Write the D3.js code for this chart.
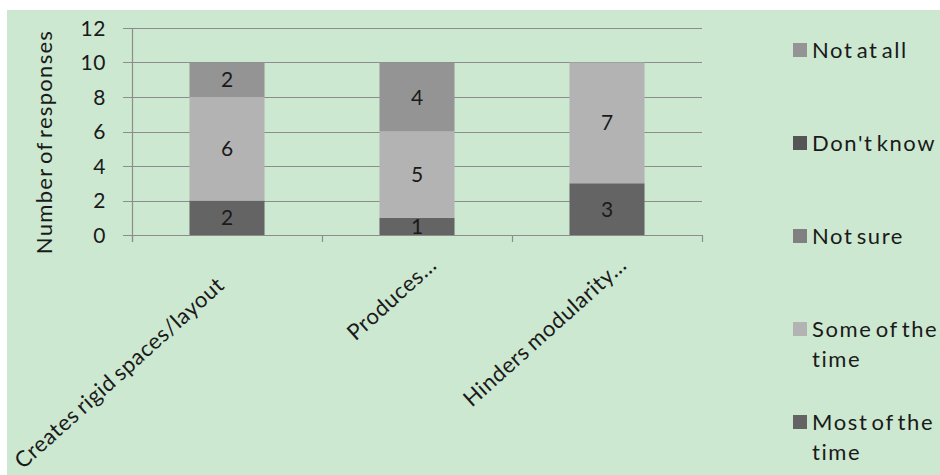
<!DOCTYPE html>
<html>
<head>
<meta charset="utf-8">
<script src="https://cdn.jsdelivr.net/npm/d3@7"></script>
<style>
  html, body { margin: 0; padding: 0; background: #ffffff; }
  svg { display: block; }
  text { font-family: Lato, "Noto Sans", sans-serif; fill: #1a1a1a; }
</style>
</head>
<body>
<svg id="chart" width="940" height="475"></svg>
<script>
// ---- data ----
const categories = ["Creates rigid spaces/layout", "Produces...", "Hinders modularity..."];
const seriesNames = ["Most of the time", "Some of the time", "Not sure", "Don't know", "Not at all"];
const mostOfTheTime = [2, 1, 3];
const someOfTheTime = [6, 5, 7];
const notSure = [0, 0, 0];
const dontKnow = [0, 0, 0];
const notAtAll = [2, 4, 0];
const yTicks = [0, 2, 4, 6, 8, 10, 12];
const yTitle = "Number of responses";
const legendLabels = [["Not at all"], ["Don't know"], ["Not sure"], ["Some of the", "time"], ["Most of the", "time"]];

// ---- styles ----
const colors = {
  "Most of the time": "#646464",
  "Some of the time": "#b3b3b3",
  "Not sure": "#808080",
  "Don't know": "#555555",
  "Not at all": "#949494"
};
const legendOrder = ["Not at all", "Don't know", "Not sure", "Some of the time", "Most of the time"];
// label slide back along its baseline (Excel pushes the long first label outward)
const xLabelSlide = [30, 0, 0];

const svg = d3.select("#chart");
svg.append("rect").attr("x", 7).attr("y", 10).attr("width", 933).attr("height", 465).attr("fill", "#cde8d0");

const plot = { left: 132, right: 702, top: 28, bottom: 235 };

const x = d3.scaleBand().domain(categories).range([plot.left, plot.right]).paddingInner(0.605).paddingOuter(0.3025);
const y = d3.scaleLinear().domain([0, 12]).range([plot.bottom, plot.top]);

// table for stack
const valuesBySeries = [mostOfTheTime, someOfTheTime, notSure, dontKnow, notAtAll];
const table = categories.map((c, i) => {
  const row = { category: c };
  seriesNames.forEach((s, k) => row[s] = valuesBySeries[k][i]);
  return row;
});
const stacked = d3.stack().keys(seriesNames)(table);

// gridlines
svg.append("g").selectAll("line").data(yTicks).join("line")
  .attr("x1", plot.left - 9).attr("x2", plot.right)
  .attr("y1", d => Math.round(y(d)) + 0.5).attr("y2", d => Math.round(y(d)) + 0.5)
  .attr("stroke", "#8c8c8c").attr("stroke-width", 1.2);

// y axis line
svg.append("line")
  .attr("x1", plot.left + 0.5).attr("x2", plot.left + 0.5)
  .attr("y1", y(12)).attr("y2", plot.bottom + 7)
  .attr("stroke", "#8c8c8c").attr("stroke-width", 1.2);

// x axis ticks at category boundaries
const boundaries = d3.range(categories.length + 1).map(i => plot.left + i * x.step());
svg.append("g").selectAll("line").data(boundaries).join("line")
  .attr("x1", d => Math.round(d) + 0.5).attr("x2", d => Math.round(d) + 0.5)
  .attr("y1", plot.bottom).attr("y2", plot.bottom + 7)
  .attr("stroke", "#8c8c8c").attr("stroke-width", 1.2);

// y tick labels
svg.append("g").selectAll("text").data(yTicks).join("text")
  .attr("x", 106).attr("y", d => y(d))
  .attr("dy", "0.36em")
  .attr("text-anchor", "end")
  .style("font-size", "21px")
  .style("letter-spacing", "0.6px")
  .text(d => d);

// y title
svg.append("text")
  .attr("transform", `translate(52, ${142}) rotate(-90)`)
  .attr("text-anchor", "middle")
  .style("font-size", "22px")
  .style("letter-spacing", "1.3px")
  .style("word-spacing", "-3px")
  .text(yTitle);

// bars
const layers = svg.append("g").selectAll("g").data(stacked).join("g")
  .attr("fill", d => colors[d.key]);
layers.selectAll("rect").data(d => d).join("rect")
  .attr("x", d => x(d.data.category))
  .attr("width", x.bandwidth())
  .attr("y", d => y(d[1]))
  .attr("height", d => y(d[0]) - y(d[1]));

// data labels
const labelG = svg.append("g");
stacked.forEach(layer => {
  layer.forEach(d => {
    const v = d[1] - d[0];
    if (v > 0) {
      labelG.append("text")
        .attr("x", x(d.data.category) + x.bandwidth() / 2)
        .attr("y", (y(d[0]) + y(d[1])) / 2)
        .attr("dy", "0.36em")
        .attr("text-anchor", "middle")
        .style("font-size", "21px")
        .text(v);
    }
  });
});

// x category labels (rotated)
const angle = -42;
svg.append("g").selectAll("text").data(categories).join("text")
  .attr("transform", (d, i) => `translate(${x(d) + x.bandwidth() / 2 + 18.5}, ${plot.bottom + 29}) rotate(${angle}) translate(${-xLabelSlide[i]}, 4)`)
  .attr("text-anchor", "end")
  .style("font-size", "22px")
  .style("letter-spacing", "0.6px")
  .style("word-spacing", "-2px")
  .text(d => d);

// legend
const leg = svg.append("g").selectAll("g").data(legendOrder).join("g")
  .attr("transform", (d, i) => `translate(793, ${43 + i * 93})`);
leg.append("rect").attr("width", 14).attr("height", 14).attr("fill", d => colors[d]);
leg.each(function(d, i) {
  const t = d3.select(this).append("text").attr("x", 19).attr("y", 15)
    .style("font-size", "22px").style("letter-spacing", "1.6px").style("word-spacing", "-4px");
  legendLabels[i].forEach((line, j) => {
    t.append("tspan").attr("x", 19).attr("dy", j === 0 ? 0 : 30).text(line);
  });
});
</script>
</body>
</html>
